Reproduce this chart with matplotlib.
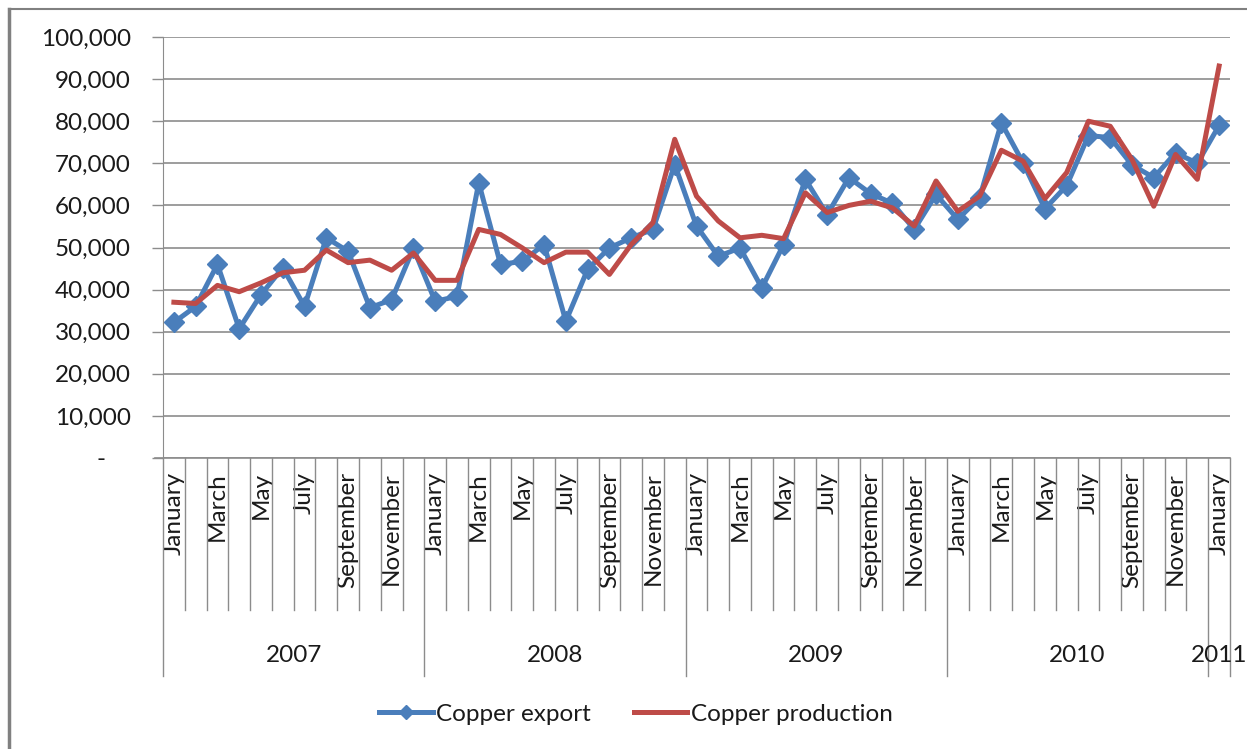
import matplotlib.pyplot as plt
import matplotlib.transforms as mtransforms
from matplotlib.ticker import FixedLocator, FuncFormatter

plt.rcParams['font.family'] = ['Lato', 'DejaVu Sans']

# --- Monthly data, January 2007 to January 2011 ---
months = ["January", "February", "March", "April", "May", "June", "July",
          "August", "September", "October", "November", "December"]
years = ["2007", "2008", "2009", "2010", "2011"]

copper_export = [
    32200, 36000, 46000, 30700, 38800, 45200, 36000, 52300, 49100, 35700, 37600, 49800,
    37200, 38400, 65400, 46000, 46700, 50700, 32500, 44800, 49900, 52300, 54300, 69700,
    55100, 47900, 49900, 40400, 50700, 66200, 57800, 66600, 62800, 60500, 54300, 62600,
    56700, 61800, 79600, 70100, 59200, 64700, 76600, 76100, 69600, 66600, 72500, 70000,
    79000,
]
copper_production = [
    37000, 36700, 41000, 39500, 41600, 44000, 44600, 49400, 46400, 47000, 44600, 48700,
    42200, 42200, 54300, 53100, 49900, 46400, 48900, 48900, 43600, 50700, 55900, 75700,
    62200, 56300, 52300, 52900, 52100, 63000, 58300, 60000, 61000, 59400, 55100, 65800,
    58600, 62200, 73100, 70500, 61600, 67800, 80000, 78800, 70900, 59800, 72100, 66200,
    93100,
]

n = len(copper_export)
x = list(range(n))
month_labels = [months[i % 12] for i in x]

BLUE = "#4A7EBB"
RED = "#BE4B48"
GRID = "#8C8C8C"
TEXT = "#1A1A1A"
FS = 17.5

fig = plt.figure(figsize=(12.47, 7.49), dpi=100)
ax = fig.add_axes([163 / 1247, 1 - 458 / 749, (1230 - 163) / 1247, (458 - 37) / 749])

ax.plot(x, copper_export, color=BLUE, lw=3.6, marker="D", markersize=10,
        label="Copper export", zorder=3)
ax.plot(x, copper_production, color=RED, lw=3.6, label="Copper production", zorder=4)

ax.set_xlim(-0.5, n - 0.5)
ax.set_ylim(0, 100000)

# y axis: Excel-style number format with "-" for zero
ax.yaxis.set_major_locator(FixedLocator(range(0, 100001, 10000)))
ax.yaxis.set_major_formatter(FuncFormatter(
    lambda v, p: "-    " if v == 0 else f"{int(v):,}"))
ax.tick_params(axis="y", length=8, width=1, color=GRID, pad=15,
               labelsize=FS, labelcolor=TEXT)
ax.grid(axis="y", color=GRID, lw=1.2, zorder=0)

for side in ("top", "right", "bottom"):
    ax.spines[side].set_visible(False)
ax.spines["left"].set_color(GRID)

# x axis: every other month shown, rotated
ax.set_xticks(x[::2])
ax.set_xticklabels(month_labels[::2], rotation=90, fontsize=FS, color=TEXT)
ax.tick_params(axis="x", length=0, pad=10)

trans = mtransforms.blended_transform_factory(ax.transData, ax.transAxes)
ax_h = 458 - 37
month_bottom = -(610 - 458) / ax_h
year_bottom = -(676 - 458) / ax_h

# baseline extended to the left like the tick marks
ax.plot([-0.5 - 8 / 21.78, n - 0.5], [0, 0], transform=trans, color=GRID,
        lw=1.2, clip_on=False, zorder=2)

for b in range(n + 1):
    xb = b - 0.5
    new_year = b % 12 == 0 or b == n
    bottom = year_bottom if new_year else month_bottom
    ax.plot([xb, xb], [0, bottom], transform=trans, color=GRID, lw=1.0,
            clip_on=False)

# year group labels
for k, yr in enumerate(years):
    first = k * 12
    last = min(first + 11, n - 1)
    ax.text((first + last) / 2, -(655 - 458) / ax_h, yr, transform=trans,
            ha="center", va="center", fontsize=FS, color=TEXT)

fig.legend(loc="center", bbox_to_anchor=(636 / 1247, 1 - 714 / 749), ncol=2,
           frameon=False, fontsize=FS, handlelength=2.2, handletextpad=0.15,
           columnspacing=1.75, labelcolor=TEXT, markerscale=0.75)

# outer chart frame (top and left edges visible)
fig.add_artist(plt.Line2D([9 / 1247, 1], [1 - 9 / 749, 1 - 9 / 749],
                          transform=fig.transFigure, color="#808080", lw=1.5))
fig.add_artist(plt.Line2D([9 / 1247, 9 / 1247], [0, 1 - 9 / 749],
                          transform=fig.transFigure, color="#808080", lw=2.5))

fig.savefig("out.png", dpi=100)
